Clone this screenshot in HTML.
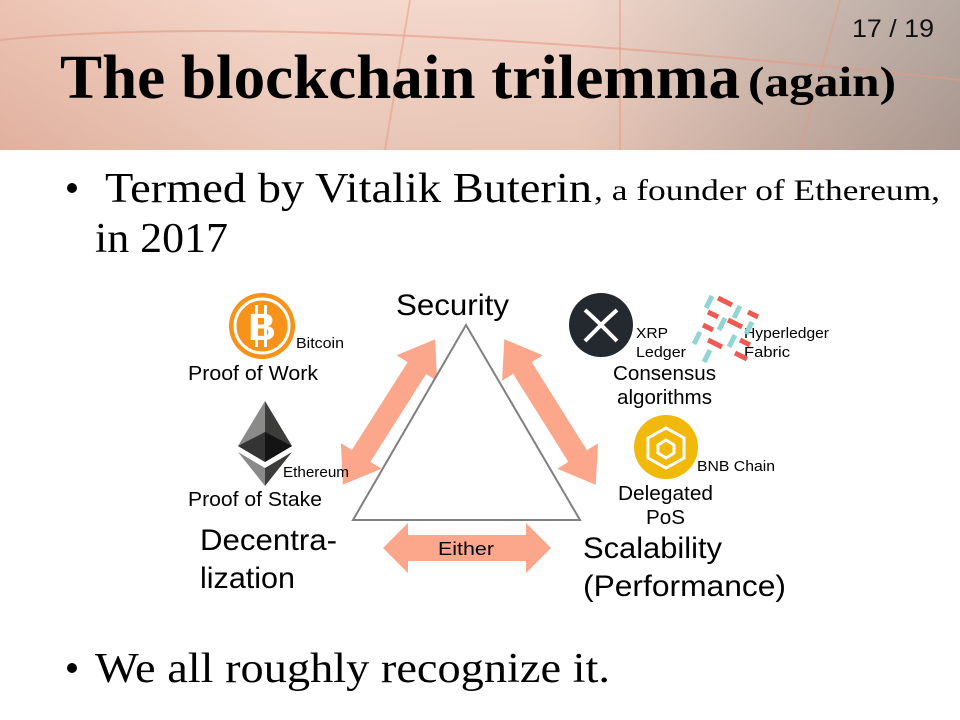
<!DOCTYPE html>
<html><head><meta charset="utf-8"><style>
html,body{margin:0;padding:0;background:#fff;}
svg{display:block}
</style></head><body>
<svg width="960" height="720" viewBox="0 0 960 720" xmlns="http://www.w3.org/2000/svg">
<defs>
<linearGradient id="hdr" x1="0" y1="0" x2="1" y2="0">
<stop offset="0" stop-color="#e9b9a6"/>
<stop offset="0.3" stop-color="#f3d2c3"/>
<stop offset="0.6" stop-color="#f0d0c2"/>
<stop offset="0.8" stop-color="#c9b3a8"/>
<stop offset="1" stop-color="#a89a92"/>
</linearGradient>
<linearGradient id="hdr2" x1="0" y1="0" x2="0" y2="1">
<stop offset="0" stop-color="#fff" stop-opacity="0.15"/>
<stop offset="1" stop-color="#b08070" stop-opacity="0.15"/>
</linearGradient>
</defs>
<rect x="0" y="0" width="960" height="150" fill="url(#hdr)"/>
<rect x="0" y="0" width="960" height="150" fill="url(#hdr2)"/>
<path d="M0 40 Q300 10 960 80" stroke="#e49a84" stroke-width="2" fill="none" opacity="0.6"/>
<path d="M410 0 L385 150 M620 0 L620 150 M840 0 L800 150" stroke="#e49a84" stroke-width="2" fill="none" opacity="0.5"/>
<text x="852" y="37" font-family="Liberation Sans, sans-serif" font-size="25" fill="#111" textLength="82" lengthAdjust="spacingAndGlyphs">17 / 19</text>
<text x="60" y="98" font-family="Liberation Serif, serif" font-weight="bold" font-size="62" fill="#000" textLength="680" lengthAdjust="spacingAndGlyphs">The blockchain trilemma</text>
<text x="748" y="96" font-family="Liberation Serif, serif" font-weight="bold" font-size="42" fill="#000" textLength="148" lengthAdjust="spacingAndGlyphs">(again)</text>

<circle cx="72" cy="188" r="5" fill="#000"/>
<text x="105" y="202" font-family="Liberation Serif, serif" font-size="42" fill="#000" textLength="487" lengthAdjust="spacingAndGlyphs">Termed by Vitalik Buterin</text>
<text x="594" y="200" font-family="Liberation Serif, serif" font-size="30" fill="#000" textLength="346" lengthAdjust="spacingAndGlyphs">, a founder of Ethereum,</text>
<text x="95" y="252" font-family="Liberation Serif, serif" font-size="42" fill="#000" textLength="133" lengthAdjust="spacingAndGlyphs">in 2017</text>

<circle cx="72" cy="668" r="5" fill="#000"/>
<text x="95" y="682" font-family="Liberation Serif, serif" font-size="42" fill="#000" textLength="515" lengthAdjust="spacingAndGlyphs">We all roughly recognize it.</text>

<g fill="#fca68b">
<g transform="translate(389,412) rotate(-57.6)">
<polygon points="-86,0 -52,-24 -52,-11 52,-11 52,-24 86,0 52,24 52,11 -52,11 -52,24"/>
</g>
<g transform="translate(550,412) rotate(57.9)">
<polygon points="-86,0 -52,-24 -52,-11 52,-11 52,-24 86,0 52,24 52,11 -52,11 -52,24"/>
</g>
<polygon points="383,548 408,523 408,535 526,535 526,523 551,548 526,573 526,561 408,561 408,573"/>
</g>
<polygon points="466,325 353,520 580,520" fill="#fff" stroke="#808080" stroke-width="2"/>
<text x="438" y="555" font-family="Liberation Sans, sans-serif" font-size="18" fill="#000" textLength="56" lengthAdjust="spacingAndGlyphs">Either</text>

<g font-family="Liberation Sans, sans-serif" fill="#000" lengthAdjust="spacingAndGlyphs">
<text x="396" y="315" font-size="30" textLength="113" lengthAdjust="spacingAndGlyphs">Security</text>
<text x="200" y="550" font-size="30" textLength="137" lengthAdjust="spacingAndGlyphs">Decentra-</text>
<text x="200" y="588" font-size="30" textLength="95" lengthAdjust="spacingAndGlyphs">lization</text>
<text x="583" y="558" font-size="30" textLength="139" lengthAdjust="spacingAndGlyphs">Scalability</text>
<text x="583" y="596" font-size="30" textLength="203" lengthAdjust="spacingAndGlyphs">(Performance)</text>
<text x="188" y="380" font-size="20" textLength="130" lengthAdjust="spacingAndGlyphs">Proof of Work</text>
<text x="188" y="506" font-size="20" textLength="134" lengthAdjust="spacingAndGlyphs">Proof of Stake</text>
<text x="296" y="348" font-size="15" textLength="48" lengthAdjust="spacingAndGlyphs">Bitcoin</text>
<text x="283" y="477" font-size="15" textLength="66" lengthAdjust="spacingAndGlyphs">Ethereum</text>
<text x="636" y="338" font-size="15" textLength="32" lengthAdjust="spacingAndGlyphs">XRP</text>
<text x="636" y="357" font-size="15" textLength="50" lengthAdjust="spacingAndGlyphs">Ledger</text>
<text x="744" y="338" font-size="15" textLength="85" lengthAdjust="spacingAndGlyphs">Hyperledger</text>
<text x="744" y="357" font-size="15" textLength="46" lengthAdjust="spacingAndGlyphs">Fabric</text>
<text x="613" y="380" font-size="20" textLength="103" lengthAdjust="spacingAndGlyphs">Consensus</text>
<text x="617" y="404" font-size="20" textLength="95" lengthAdjust="spacingAndGlyphs">algorithms</text>
<text x="697" y="471" font-size="15" textLength="78" lengthAdjust="spacingAndGlyphs">BNB Chain</text>
<text x="618" y="500" font-size="20" textLength="95" lengthAdjust="spacingAndGlyphs">Delegated</text>
<text x="646" y="524" font-size="20" textLength="39" lengthAdjust="spacingAndGlyphs">PoS</text>
</g>

<circle cx="262" cy="326" r="33" fill="#f7931a"/>
<circle cx="262" cy="326" r="27" fill="none" stroke="#fff" stroke-width="3"/>
<text x="262" y="340" font-family="Liberation Sans, sans-serif" font-weight="bold" font-size="38" fill="#fff" text-anchor="middle">B</text>
<rect x="255" y="305" width="3" height="42" fill="#fff"/>
<rect x="264" y="305" width="3" height="42" fill="#fff"/>

<polygon points="265,401 238,446 265,462" fill="#8a8a8a"/>
<polygon points="265,401 292,446 265,462" fill="#3c3c3b"/>
<polygon points="238,446 265,432 265,462" fill="#343434"/>
<polygon points="292,446 265,432 265,462" fill="#141414"/>
<polygon points="238,452 265,468 265,486" fill="#8a8a8a"/>
<polygon points="292,452 265,468 265,486" fill="#3c3c3b"/>

<circle cx="601" cy="325" r="32" fill="#23292f"/>
<path d="M585 310 Q594 318 601 325 Q608 318 617 310 M585 341 Q594 332 601 325 Q608 332 617 341" stroke="#fff" stroke-width="4" fill="none"/>

<g stroke-width="5" stroke-linecap="butt">
<g stroke="#ed5a52">
<line x1="718" y1="298" x2="732" y2="305"/>
<line x1="748" y1="312" x2="758" y2="317"/>
<line x1="708" y1="312" x2="718" y2="317"/>
<line x1="728" y1="320" x2="742" y2="327"/>
<line x1="703" y1="325" x2="713" y2="330"/>
<line x1="708" y1="340" x2="722" y2="347"/>
<line x1="735" y1="353" x2="747" y2="359"/>
<line x1="740" y1="340" x2="750" y2="345"/>
</g>
<g stroke="#93d4d4">
<line x1="712" y1="296" x2="706" y2="308"/>
<line x1="740" y1="306" x2="734" y2="318"/>
<line x1="725" y1="318" x2="719" y2="330"/>
<line x1="700" y1="332" x2="694" y2="344"/>
<line x1="752" y1="322" x2="746" y2="334"/>
<line x1="735" y1="335" x2="729" y2="347"/>
<line x1="710" y1="350" x2="704" y2="362"/>
</g>
</g>

<circle cx="666" cy="447" r="32" fill="#f0b90b"/>
<g fill="none" stroke="#fff" stroke-width="3">
<polygon points="666,428 684,438 684,458 666,468 648,458 648,438"/>
<polygon points="666,440 674,445 674,453 666,458 658,453 658,445"/>
</g>
</svg>
</body></html>
